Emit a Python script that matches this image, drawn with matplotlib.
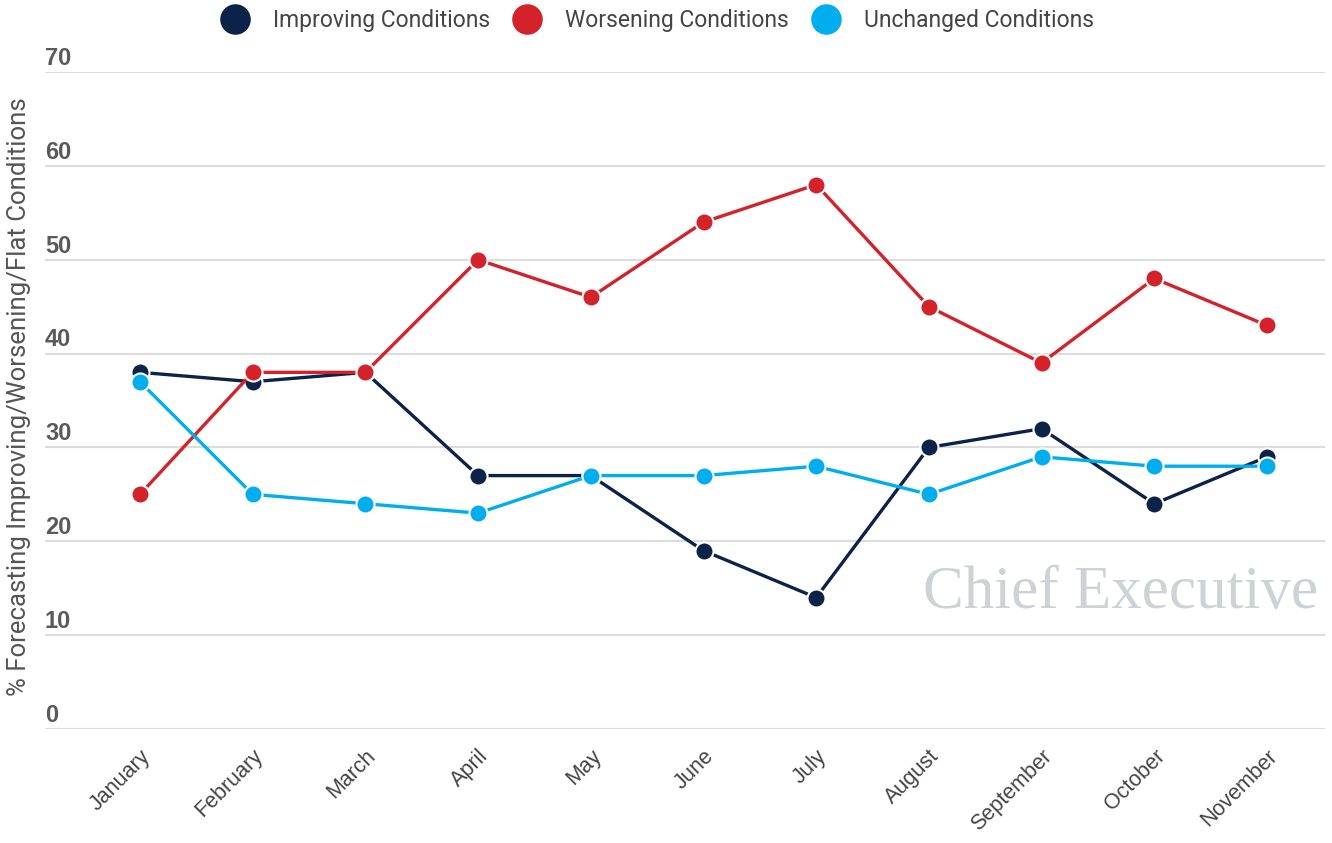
import matplotlib
matplotlib.use("Agg")
import matplotlib.pyplot as plt
from matplotlib.lines import Line2D

months = ["January", "February", "March", "April", "May", "June", "July",
          "August", "September", "October", "November"]
improving = [38, 37, 38, 27, 27, 19, 14, 30, 32, 24, 29]
worsening = [25, 38, 38, 50, 46, 54, 58, 45, 39, 48, 43]
unchanged = [37, 25, 24, 23, 27, 27, 28, 25, 29, 28, 28]
yticks = [0, 10, 20, 30, 40, 50, 60, 70]

series = [("Improving Conditions", improving, "#0b2349"),
          ("Worsening Conditions", worsening, "#d3222a"),
          ("Unchanged Conditions", unchanged, "#00aeef")]

plt.rcParams['font.family'] = ['Roboto', 'DejaVu Sans']

W, H = 1332, 843
fig = plt.figure(figsize=(W / 100, H / 100), dpi=100)
left, right, top, bottom = 45, 1325, 72, 729
ax = fig.add_axes([left / W, 1 - bottom / H, (right - left) / W, (bottom - top) / H])

x = list(range(len(months)))
for name, vals, col in series:
    ax.plot(x, vals, color=col, lw=2.4, marker='o', markersize=13,
            markeredgecolor='white', markeredgewidth=1.5, zorder=3, clip_on=False)

ax.set_ylim(0, 70)
ax.set_xlim(-95 / 112.7, 10 + 58 / 112.7)
for s in ax.spines.values():
    s.set_visible(False)
ax.set_yticks(yticks)
ax.set_yticklabels([])
ax.tick_params(axis='y', length=0)
ax.grid(axis='y', color='#dcdcdc', lw=1.5, zorder=0)
ax.set_axisbelow(True)
for v in yticks:
    ax.annotate(str(v), xy=(0, v), xycoords=ax.get_yaxis_transform(),
                xytext=(0, 1.5), textcoords='offset points', ha='left', va='bottom',
                fontsize=17, color='#5a5a5a', fontweight='bold',
                family=['Liberation Sans'])

ax.set_xticks(x)
ax.set_xticklabels(months, rotation=45, ha='right', rotation_mode='anchor',
                   fontsize=15.5, color='#444444', family=['Liberation Sans'])
ax.tick_params(axis='x', length=0, pad=12)

fig.text(19 / W, 1 - 397 / H, "% Forecasting Improving/Worsening/Flat Conditions",
         rotation=90, ha='center', va='center', fontsize=18.5, color='#555555')

fig.text(1318 / W, 1 - 608 / H, "Chief Executive", ha='right', va='baseline',
         fontsize=44, color='#cdd2d6', family=['Liberation Serif'], zorder=1)

handles = [Line2D([], [], ls='none', marker='o', markersize=23, color=c,
                  markeredgecolor='white', markeredgewidth=1.0) for _, _, c in series]
fig.legend(handles, [n for n, _, _ in series], loc='center', ncol=3,
           bbox_to_anchor=(657 / W, 1 - 21 / H), frameon=False, fontsize=16.5,
           handletextpad=0.98, columnspacing=1.0, labelcolor='#444444', handlelength=1.3)

fig.savefig("out.png", dpi=100)
